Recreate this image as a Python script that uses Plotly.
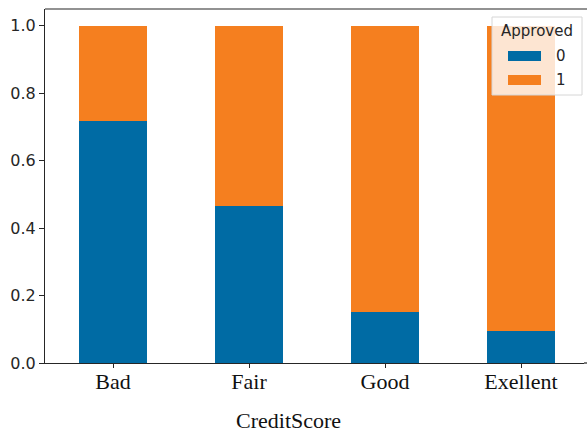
import plotly.graph_objects as go

# Share of approvals per credit-score band (normalized, stacked)
categories = ["Bad", "Fair", "Good", "Exellent"]
approved_0 = [0.718, 0.467, 0.152, 0.095]
approved_1 = [round(1 - v, 3) for v in approved_0]
series_names = ["0", "1"]
colors = ["#006BA4", "#F57F1F"]

W, H = 587, 432
L, R, T, B = 45, 3, 9, 69
PW, PH = W - L - R, H - T - B


def px(x):
    return (x - L) / PW


def py(y):
    return (H - B - y) / PH


fig = go.Figure()
for name, vals, col in zip(series_names, [approved_0, approved_1], colors):
    fig.add_trace(go.Bar(
        x=list(range(len(categories))),
        y=vals,
        name=name,
        marker=dict(color=col, line=dict(width=0)),
        width=0.5,
        showlegend=False,
    ))

shapes = []
annotations = []

# top spine, running to the page edge
shapes.append(dict(type="line", xref="paper", yref="paper", x0=0, x1=px(W), y0=1, y1=1,
                   line=dict(color="#262626", width=1.2)))
# bottom spine continues to the page edge as well
shapes.append(dict(type="line", xref="paper", yref="paper", x0=1, x1=px(W), y0=0, y1=0,
                   line=dict(color="#262626", width=1.2)))

# legend box
shapes.append(dict(type="rect", xref="paper", yref="paper",
                   x0=px(492), x1=px(582), y0=py(95), y1=py(17),
                   fillcolor="rgba(255,255,255,0.8)", line=dict(color="#d6d6d6", width=1)))
annotations.append(dict(text="Approved", xref="paper", yref="paper", x=px(537), y=py(31),
                        showarrow=False, xanchor="center", yanchor="middle",
                        font=dict(family="DejaVu Sans", size=15, color="#262626")))
for i, (name, col) in enumerate(zip(series_names, colors)):
    yc = 56 + 24 * i
    shapes.append(dict(type="rect", xref="paper", yref="paper",
                       x0=px(508), x1=px(541), y0=py(yc + 5), y1=py(yc - 5),
                       fillcolor=col, line=dict(width=0)))
    annotations.append(dict(text=name, xref="paper", yref="paper", x=px(554), y=py(yc),
                            showarrow=False, xanchor="left", yanchor="middle",
                            font=dict(family="DejaVu Sans", size=15, color="#262626")))

# x-axis title
annotations.append(dict(text="CreditScore", xref="paper", yref="paper", x=px(288), y=py(420),
                        showarrow=False, xanchor="center", yanchor="middle",
                        font=dict(family="Liberation Serif", size=22, color="#111111")))

fig.update_layout(
    width=W,
    height=H,
    barmode="stack",
    plot_bgcolor="white",
    paper_bgcolor="white",
    margin=dict(l=L, r=R, t=T, b=B),
    showlegend=False,
    shapes=shapes,
    annotations=annotations,
)

fig.update_xaxes(
    range=[-0.5, 3.463],
    tickmode="array",
    tickvals=list(range(len(categories))),
    ticktext=categories,
    tickfont=dict(family="Liberation Serif", size=22, color="#111111"),
    ticks="outside", ticklen=4, tickcolor="#262626",
    ticklabelstandoff=-6,
    showline=True, linecolor="#262626", linewidth=1.2, mirror=False,
    showgrid=False, zeroline=False,
)

fig.update_yaxes(
    range=[0, 1.05],
    tickvals=[0.0, 0.2, 0.4, 0.6, 0.8, 1.0],
    ticktext=["0.0", "0.2", "0.4", "0.6", "0.8", "1.0"],
    tickfont=dict(family="DejaVu Sans", size=16, color="#262626"),
    ticks="outside", ticklen=5, tickcolor="#262626",
    showline=True, linecolor="#262626", linewidth=1.2, mirror=False,
    showgrid=False, zeroline=False,
)

fig.write_html("out.html")
